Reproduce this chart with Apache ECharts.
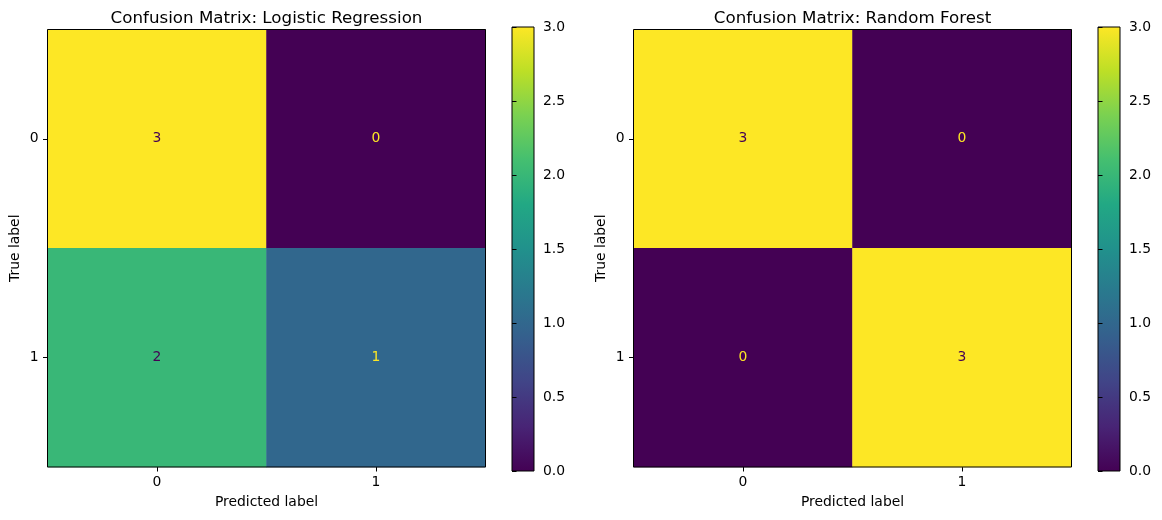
<!DOCTYPE html>
<html>
<head>
<meta charset="utf-8">
<script src="https://cdn.jsdelivr.net/npm/echarts@6/dist/echarts.min.js"></script>
<style>
html,body{margin:0;padding:0;background:#fff;}
#chart{width:1162px;height:520px;}
</style>
</head>
<body>
<div id="chart"></div>
<script>
// ---- data ----
const classLabels = ['0', '1'];
const titles = ['Confusion Matrix: Logistic Regression', 'Confusion Matrix: Random Forest'];
const cmLogistic = [[3, 0], [2, 1]];   // rows = true label, cols = predicted label
const cmForest = [[3, 0], [0, 3]];
const colorbarTicks = [0.0, 0.5, 1.0, 1.5, 2.0, 2.5, 3.0];
const vMin = 0, vMax = 3;

// ---- style ----
const FONT = 'DejaVu Sans';
const FS = 13.9;
const viridis = ['#440154', '#482475', '#414487', '#355f8d', '#2a788e', '#21918c',
                 '#22a884', '#44bf70', '#7ad151', '#bddf26', '#fde725'];
const thresh = (vMin + vMax) / 2;

function cells(cm) {
  const out = [];
  cm.forEach((row, r) => row.forEach((v, c) => {
    out.push({
      value: [c, r, v],
      label: { color: v > thresh ? viridis[0] : viridis[viridis.length - 1] }
    });
  }));
  return out;
}

const gradient = new echarts.graphic.LinearGradient(0, 1, 0, 0,
  viridis.map((c, i) => ({ offset: i / (viridis.length - 1), color: c })));

const hm = [{ left: 47.5, top: 29.5, width: 438, height: 437.5 },
            { left: 633.5, top: 29.5, width: 438, height: 437.5 }];
const cb = [{ left: 512, top: 27, width: 22, height: 444 },
            { left: 1098, top: 27, width: 22, height: 444 }];

const grids = [], xAxes = [], yAxes = [], series = [], titleArr = [];
[cmLogistic, cmForest].forEach((cm, i) => {
  grids.push(Object.assign({ show: true, z: 10, backgroundColor: 'transparent',
    borderColor: '#000', borderWidth: 1 }, hm[i]));
  xAxes.push({
    gridIndex: i, type: 'category', data: classLabels,
    name: 'Predicted label', nameLocation: 'middle', nameGap: 28,
    nameTextStyle: { fontFamily: FONT, fontSize: FS, color: '#000' },
    axisLine: { show: false },
    axisTick: { show: true, alignWithLabel: true, length: 4.5, lineStyle: { color: '#000' } },
    axisLabel: { fontFamily: FONT, fontSize: FS, color: '#000', margin: 8 },
    splitLine: { show: false }, splitArea: { show: false }
  });
  yAxes.push({
    gridIndex: i, type: 'category', data: classLabels, inverse: true,
    name: 'True label', nameLocation: 'middle', nameGap: 25,
    nameTextStyle: { fontFamily: FONT, fontSize: FS, color: '#000' },
    axisLine: { show: false },
    axisTick: { show: true, alignWithLabel: true, length: 4.5, lineStyle: { color: '#000' } },
    axisLabel: { fontFamily: FONT, fontSize: FS, color: '#000', margin: 9 },
    splitLine: { show: false }, splitArea: { show: false }
  });
  series.push({
    type: 'heatmap', xAxisIndex: i, yAxisIndex: i,
    data: cells(cm),
    label: { show: true, fontFamily: FONT, fontSize: FS,
      formatter: p => String(p.value[2]) },
    emphasis: { disabled: true }
  });
  titleArr.push({
    text: titles[i], left: hm[i].left + hm[i].width / 2, top: 10, textAlign: 'center',
    padding: 0,
    textStyle: { fontFamily: FONT, fontSize: 16.7, fontWeight: 'normal', color: '#000' }
  });
});

// colorbars
cb.forEach((g, k) => {
  const gi = grids.length;
  grids.push(Object.assign({ show: true, backgroundColor: gradient,
    borderColor: '#000', borderWidth: 1 }, g));
  xAxes.push({ gridIndex: gi, type: 'value', show: false, min: 0, max: 1 });
  yAxes.push({
    gridIndex: gi, type: 'value', position: 'right', min: vMin, max: vMax, interval: 0.5,
    axisLine: { show: false },
    axisTick: { show: true, length: 4.5, lineStyle: { color: '#000' } },
    axisLabel: { fontFamily: FONT, fontSize: FS, color: '#000', margin: 9,
      formatter: v => (colorbarTicks.includes(v) ? v.toFixed(1) : '') },
    splitLine: { show: false }
  });
});

const chart = echarts.init(document.getElementById('chart'));
chart.setOption({
  backgroundColor: '#fff',
  animation: false,
  title: titleArr,
  grid: grids,
  xAxis: xAxes,
  yAxis: yAxes,
  visualMap: {
    show: false, min: vMin, max: vMax, dimension: 2, seriesIndex: [0, 1],
    inRange: { color: viridis }
  },
  series: series
});
</script>
</body>
</html>
